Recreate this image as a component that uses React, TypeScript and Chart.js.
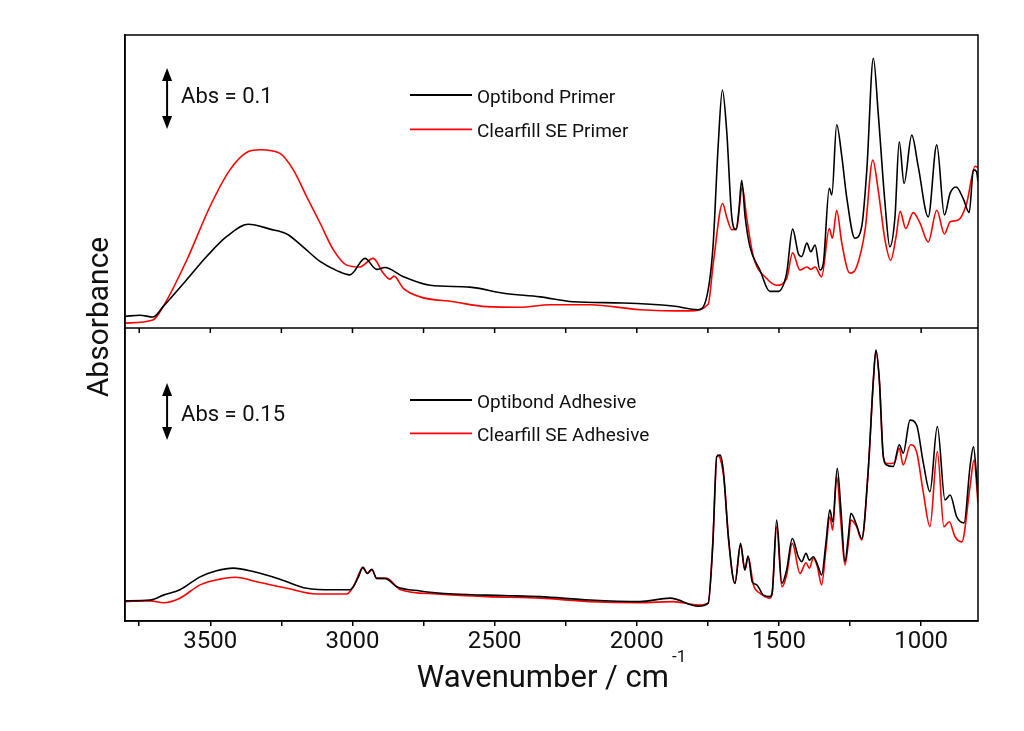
import { useEffect, useRef } from "react";
import { Chart, registerables } from "chart.js";

Chart.register(...registerables);

// Primer spectra (wavenumber in cm-1, absorbance)
const primerOptibondWn = [3800, 3747, 3702, 3666, 3583, 3513, 3442, 3366, 3290, 3231, 3174, 3114, 3055, 3009, 2956, 2915, 2886, 2821, 2727, 2587, 2469, 2340, 2224, 2048, 1873, 1785, 1754, 1732, 1714, 1699, 1684, 1666, 1651, 1641, 1631, 1619, 1602, 1567, 1532, 1503, 1473, 1452, 1432, 1420, 1402, 1388, 1373, 1356, 1344, 1323, 1314, 1297, 1279, 1262, 1233, 1209, 1191, 1168, 1151, 1127, 1110, 1092, 1077, 1060, 1033, 1010, 975, 945, 918, 898, 877, 852, 831, 816, 805, 800];
const primerOptibondAbs = [0.019, 0.021, 0.018, 0.035, 0.079, 0.117, 0.15, 0.17, 0.162, 0.154, 0.133, 0.109, 0.094, 0.087, 0.114, 0.096, 0.099, 0.084, 0.07, 0.067, 0.057, 0.051, 0.043, 0.041, 0.036, 0.03, 0.051, 0.133, 0.297, 0.39, 0.324, 0.182, 0.161, 0.193, 0.242, 0.182, 0.133, 0.095, 0.06, 0.06, 0.09, 0.162, 0.122, 0.117, 0.139, 0.125, 0.136, 0.095, 0.106, 0.229, 0.218, 0.333, 0.281, 0.215, 0.147, 0.166, 0.259, 0.442, 0.352, 0.204, 0.133, 0.182, 0.305, 0.237, 0.316, 0.264, 0.182, 0.3, 0.185, 0.221, 0.231, 0.212, 0.189, 0.259, 0.256, 0.24];

const primerClearfillWn = [3800, 3702, 3666, 3583, 3501, 3431, 3366, 3325, 3255, 3208, 3161, 3114, 3067, 3020, 2974, 2927, 2892, 2868, 2854, 2821, 2762, 2645, 2528, 2411, 2305, 2165, 1989, 1813, 1749, 1731, 1698, 1684, 1666, 1649, 1629, 1614, 1590, 1543, 1508, 1473, 1452, 1426, 1402, 1388, 1373, 1350, 1323, 1312, 1297, 1279, 1251, 1227, 1197, 1170, 1151, 1127, 1107, 1088, 1074, 1054, 1028, 1004, 975, 945, 918, 898, 869, 840, 810, 800];
const primerClearfillAbs = [0.008, 0.013, 0.035, 0.111, 0.199, 0.259, 0.289, 0.292, 0.286, 0.259, 0.215, 0.172, 0.128, 0.103, 0.1, 0.114, 0.09, 0.08, 0.085, 0.065, 0.051, 0.043, 0.035, 0.034, 0.038, 0.038, 0.03, 0.028, 0.039, 0.106, 0.204, 0.182, 0.161, 0.163, 0.231, 0.182, 0.117, 0.081, 0.07, 0.081, 0.123, 0.095, 0.1, 0.096, 0.1, 0.084, 0.163, 0.147, 0.193, 0.139, 0.09, 0.1, 0.161, 0.275, 0.226, 0.144, 0.111, 0.15, 0.191, 0.163, 0.189, 0.172, 0.141, 0.193, 0.154, 0.174, 0.177, 0.204, 0.265, 0.263];

// Adhesive spectra
const adhesiveOptibondWn = [3800, 3712, 3665, 3607, 3536, 3478, 3419, 3349, 3255, 3161, 3067, 3009, 2979, 2964, 2948, 2932, 2915, 2886, 2844, 2762, 2645, 2469, 2340, 2165, 1989, 1883, 1784, 1749, 1733, 1719, 1707, 1696, 1678, 1655, 1635, 1620, 1609, 1594, 1578, 1555, 1532, 1524, 1508, 1490, 1473, 1453, 1432, 1420, 1405, 1393, 1379, 1362, 1350, 1335, 1321, 1311, 1295, 1282, 1268, 1256, 1247, 1227, 1209, 1186, 1168, 1159, 1147, 1133, 1121, 1098, 1077, 1063, 1039, 1016, 992, 969, 943, 916, 898, 875, 849, 828, 816, 805, 800];
const adhesiveOptibondAbs = [0.053, 0.055, 0.068, 0.082, 0.116, 0.132, 0.139, 0.13, 0.11, 0.086, 0.082, 0.082, 0.116, 0.141, 0.125, 0.136, 0.112, 0.112, 0.09, 0.079, 0.071, 0.067, 0.064, 0.055, 0.051, 0.06, 0.039, 0.047, 0.195, 0.432, 0.436, 0.397, 0.222, 0.099, 0.204, 0.134, 0.171, 0.103, 0.095, 0.068, 0.064, 0.073, 0.265, 0.099, 0.134, 0.217, 0.169, 0.156, 0.178, 0.16, 0.169, 0.143, 0.121, 0.204, 0.292, 0.261, 0.401, 0.292, 0.156, 0.222, 0.283, 0.252, 0.217, 0.397, 0.633, 0.712, 0.633, 0.432, 0.41, 0.406, 0.463, 0.441, 0.528, 0.515, 0.414, 0.34, 0.511, 0.318, 0.331, 0.274, 0.258, 0.406, 0.458, 0.379, 0.327];

const adhesiveClearfillWn = [3800, 3712, 3665, 3607, 3536, 3466, 3413, 3325, 3231, 3126, 3020, 2997, 2962, 2948, 2931, 2915, 2880, 2833, 2704, 2528, 2340, 2165, 1989, 1872, 1784, 1749, 1733, 1717, 1707, 1693, 1676, 1655, 1635, 1620, 1608, 1590, 1567, 1532, 1524, 1508, 1490, 1473, 1453, 1426, 1405, 1393, 1379, 1365, 1350, 1335, 1321, 1311, 1297, 1282, 1268, 1256, 1247, 1227, 1209, 1186, 1168, 1159, 1147, 1133, 1121, 1104, 1092, 1077, 1063, 1037, 1016, 992, 969, 943, 920, 901, 881, 857, 828, 814, 800];
const adhesiveClearfillAbs = [0.051, 0.053, 0.048, 0.06, 0.095, 0.11, 0.115, 0.101, 0.086, 0.071, 0.071, 0.09, 0.141, 0.125, 0.134, 0.112, 0.112, 0.083, 0.071, 0.064, 0.06, 0.051, 0.048, 0.051, 0.042, 0.047, 0.204, 0.436, 0.428, 0.371, 0.204, 0.099, 0.2, 0.134, 0.169, 0.095, 0.073, 0.06, 0.073, 0.248, 0.09, 0.121, 0.204, 0.125, 0.153, 0.139, 0.165, 0.143, 0.095, 0.187, 0.274, 0.239, 0.379, 0.257, 0.147, 0.204, 0.265, 0.248, 0.213, 0.397, 0.633, 0.71, 0.633, 0.432, 0.414, 0.414, 0.419, 0.454, 0.41, 0.463, 0.445, 0.336, 0.248, 0.445, 0.248, 0.261, 0.222, 0.208, 0.353, 0.423, 0.309];

const labelledTicks = [3500, 3000, 2500, 2000, 1500, 1000];

// scale bars: [bottom, top] in absorbance
const primerScaleBar = [0.326, 0.426];
const adhesiveScaleBar = [0.4755, 0.6255];
const scaleBarWn = 3652;

const FONT = "Roboto";
const TEXT = "#111";

const toPoints = (wn: number[], abs: number[]) =>
  wn.map((w, i) => ({ x: w, y: abs[i] }));

function arrow(ctx: CanvasRenderingContext2D, x: number, yTop: number, yBottom: number) {
  const head = 13;
  const half = 5;
  ctx.beginPath();
  ctx.moveTo(x, yTop + head - 2);
  ctx.lineTo(x, yBottom - head + 2);
  ctx.lineWidth = 2;
  ctx.stroke();
  ctx.beginPath();
  ctx.moveTo(x, yTop);
  ctx.lineTo(x - half, yTop + head);
  ctx.lineTo(x + half, yTop + head);
  ctx.closePath();
  ctx.fill();
  ctx.beginPath();
  ctx.moveTo(x, yBottom);
  ctx.lineTo(x - half, yBottom - head);
  ctx.lineTo(x + half, yBottom - head);
  ctx.closePath();
  ctx.fill();
}

const decorPlugin = {
  id: "decor",
  afterDraw(chart: any) {
    const { ctx, chartArea: a, scales } = chart;
    const xs = scales.x;
    const yt = scales.yTop;
    const yb = scales.yBot;
    const mid = yt.bottom;
    ctx.save();
    ctx.strokeStyle = "#000";
    ctx.fillStyle = "#000";
    ctx.lineWidth = 1.5;
    ctx.strokeRect(a.left, a.top, a.right - a.left, a.bottom - a.top);
    ctx.beginPath();
    ctx.moveTo(a.left, mid);
    ctx.lineTo(a.right, mid);
    ctx.stroke();
    // ticks below the panel divider
    ctx.beginPath();
    for (const t of xs.ticks) {
      const px = xs.getPixelForValue(t.value);
      ctx.moveTo(px, mid);
      ctx.lineTo(px, mid + 5);
    }
    ctx.stroke();

    // scale bars
    const ax = xs.getPixelForValue(scaleBarWn);
    arrow(ctx, ax, yt.getPixelForValue(primerScaleBar[1]), yt.getPixelForValue(primerScaleBar[0]));
    arrow(ctx, ax, yb.getPixelForValue(adhesiveScaleBar[1]), yb.getPixelForValue(adhesiveScaleBar[0]));

    ctx.fillStyle = TEXT;
    ctx.textAlign = "left";
    ctx.textBaseline = "alphabetic";
    ctx.font = `22px ${FONT}`;
    ctx.fillText("Abs = 0.1", ax + 14, a.top + 67.7);
    ctx.fillText("Abs = 0.15", ax + 14, mid + 92.5);

    // legends
    const legend = (y: number, color: string, label: string, textY: number) => {
      ctx.strokeStyle = color;
      ctx.lineWidth = 1.8;
      ctx.beginPath();
      ctx.moveTo(410, y);
      ctx.lineTo(472, y);
      ctx.stroke();
      ctx.fillStyle = TEXT;
      ctx.font = `19px ${FONT}`;
      ctx.fillText(label, 477, textY);
    };
    legend(a.top + 60, "#000", "Optibond Primer", a.top + 67.7);
    legend(a.top + 94.3, "#ff0000", "Clearfill SE Primer", a.top + 101.7);
    legend(mid + 72, "#000", "Optibond Adhesive", mid + 80.3);
    legend(mid + 105.3, "#ff0000", "Clearfill SE Adhesive", mid + 113);

    // axis titles
    ctx.fillStyle = TEXT;
    ctx.font = `31px ${FONT}`;
    const main = "Wavenumber / cm";
    const w1 = ctx.measureText(main).width;
    ctx.font = `17px ${FONT}`;
    const w2 = ctx.measureText("-1").width;
    const start = (a.left + a.right) / 2 - (w1 + 3 + w2) / 2;
    ctx.font = `31px ${FONT}`;
    ctx.fillText(main, start, a.bottom + 65.7);
    ctx.font = `17px ${FONT}`;
    ctx.fillText("-1", start + w1 + 3, a.bottom + 41);

    ctx.save();
    ctx.translate(108, (a.top + a.bottom) / 2 - 11);
    ctx.rotate(-Math.PI / 2);
    ctx.textAlign = "center";
    ctx.font = `30px ${FONT}`;
    ctx.fillText("Absorbance", 0, 0);
    ctx.restore();

    ctx.restore();
  },
};

const hiddenY = {
  type: "linear" as const,
  position: "left" as const,
  stack: "panels",
  stackWeight: 1,
  grid: { display: false, drawTicks: false },
  ticks: { display: false },
  border: { display: true, color: "#000", width: 1.5 },
  afterFit: (s: any) => {
    s.width = 0;
  },
};

const App = () => {
  const canvasRef = useRef<HTMLCanvasElement | null>(null);

  useEffect(() => {
    document.body.style.margin = "0";
    if (!canvasRef.current) return;
    const ctx = canvasRef.current.getContext("2d");
    if (!ctx) return;

    const line = (label: string, wn: number[], abs: number[], color: string, axis: string) => ({
      label,
      data: toPoints(wn, abs),
      borderColor: color,
      backgroundColor: color,
      borderWidth: 1.6,
      pointRadius: 0,
      cubicInterpolationMode: "monotone" as const,
      yAxisID: axis,
    });

    const chart = new Chart(ctx, {
      type: "line",
      data: {
        datasets: [
          line("Optibond Primer", primerOptibondWn, primerOptibondAbs, "#000", "yTop"),
          line("Clearfill SE Primer", primerClearfillWn, primerClearfillAbs, "#ff0000", "yTop"),
          line("Optibond Adhesive", adhesiveOptibondWn, adhesiveOptibondAbs, "#000", "yBot"),
          line("Clearfill SE Adhesive", adhesiveClearfillWn, adhesiveClearfillAbs, "#ff0000", "yBot"),
        ],
      },
      options: {
        animation: false,
        responsive: true,
        maintainAspectRatio: false,
        layout: { padding: { left: 125, right: 46, top: 35, bottom: 0 } },
        plugins: { legend: { display: false }, tooltip: { enabled: false } },
        scales: {
          x: {
            type: "linear",
            position: "bottom",
            min: 800,
            max: 3800,
            reverse: true,
            afterBuildTicks: (s: any) => {
              s.ticks = [];
              for (let v = 3750; v >= 1000; v -= 250) s.ticks.push({ value: v });
            },
            grid: {
              display: true,
              drawOnChartArea: false,
              drawTicks: true,
              tickLength: 5,
              color: "#000",
              lineWidth: 1.5,
            },
            border: { display: true, color: "#000", width: 1.5 },
            ticks: {
              autoSkip: false,
              maxRotation: 0,
              padding: 2,
              color: TEXT,
              font: { family: FONT, size: 24 },
              callback: (v: any) => (labelledTicks.includes(Number(v)) ? String(v) : ""),
            },
            afterFit: (s: any) => {
              s.height = 110;
            },
          },
          // stacked axes are laid out bottom-up, so the lower panel comes first
          yBot: { ...hiddenY, min: 0, max: 0.77 },
          yTop: { ...hiddenY, min: 0, max: 0.48 },
        },
      },
      plugins: [decorPlugin],
    });

    return () => {
      chart.destroy();
    };
  }, []);

  return (
    <div style={{ position: "relative", width: 1024, height: 731 }}>
      <canvas ref={canvasRef}></canvas>
    </div>
  );
};

export default App;
